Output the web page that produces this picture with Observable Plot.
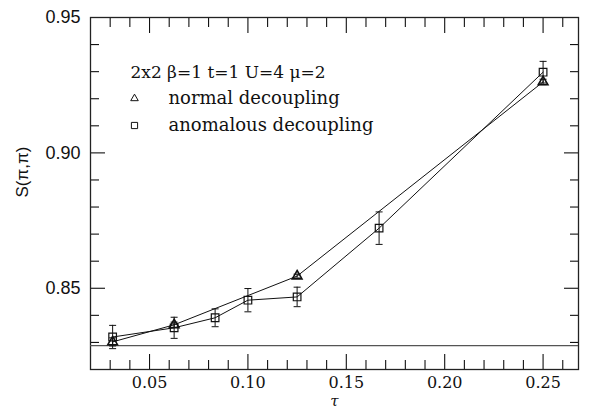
<!DOCTYPE html>
<html><head><meta charset="utf-8">
<script src="https://cdn.jsdelivr.net/npm/d3@7"></script>
<script src="https://cdn.jsdelivr.net/npm/@observablehq/plot@0.6"></script>
<style>body{margin:0;background:#fff}</style>
</head><body><div id="chart"></div>
<script>
// ---- data ----
const tauNormal = [1/32, 1/16, 1/8, 1/4];
const sNormal   = [0.8302, 0.8365, 0.8545, 0.9262];
const errNormal = [0.0015, 0.0010, 0.0007, 0.0010];

const tauAnom = [1/32, 1/16, 1/12, 1/10, 1/8, 1/6, 1/4];
const sAnom   = [0.8320, 0.8354, 0.8391, 0.8456, 0.8468, 0.8722, 0.9298];
const errAnom = [0.0043, 0.0039, 0.0033, 0.0043, 0.0036, 0.0060, 0.0040];

const refLine = [0.8288];

const xMajor = [0.05, 0.10, 0.15, 0.20, 0.25];
const xLabels = ["0.05", "0.10", "0.15", "0.20", "0.25"];
const xMinor = [0.03, 0.04, 0.06, 0.07, 0.08, 0.09, 0.11, 0.12, 0.13, 0.14, 0.16, 0.17, 0.18, 0.19, 0.21, 0.22, 0.23, 0.24, 0.26];
const yMajor = [0.85, 0.90];
const yLabelVals = [0.85, 0.90, 0.95];
const yLabels = ["0.85", "0.90", "0.95"];
const yMinor = [0.83, 0.84, 0.86, 0.87, 0.88, 0.89, 0.91, 0.92, 0.93, 0.94];

const legendTitle = "2x2 β=1 t=1 U=4 μ=2";
const seriesNames = ["normal decoupling", "anomalous decoupling"];
const xTitle = "τ";
const yTitle = "S(π,π)";

// ---- tables ----
const normal = tauNormal.map((t, i) => ({t, s: sNormal[i], e: errNormal[i]}));
const anom = tauAnom.map((t, i) => ({t, s: sAnom[i], e: errAnom[i]}));
const both = normal.concat(anom);

const cap = {draw(ctx, size) { const r = Math.sqrt(size / Math.PI); ctx.moveTo(-r, 0); ctx.lineTo(r, 0); }};

const sans = "Liberation Sans, Arial, sans-serif";
const serif = "DejaVu Serif, serif";

const ticksX = (vals, size, anchor) => Plot.axisX(vals, {anchor, tickSize: -size, tickFormat: () => "", label: null, strokeWidth: 1.1});
const ticksY = (vals, size, anchor) => Plot.axisY(vals, {anchor, tickSize: -size, tickFormat: () => "", label: null, strokeWidth: 1.1});

const legendText = (txt, dy, label) => Plot.text([txt], {frameAnchor: "top-left", dx: label ? 40 : 78, dy, textAnchor: "start", lineAnchor: "middle", fontFamily: serif, fontSize: label ? 17 : 18, fill: "#111", ariaLabel: label ? "legend-title" : "legend-name"});

const chart = Plot.plot({
  width: 592,
  height: 411,
  marginLeft: 90,
  marginRight: 14,
  marginTop: 17,
  marginBottom: 42,
  x: {domain: [0.02, 0.268]},
  y: {domain: [0.82, 0.95]},
  style: {background: "#fff", color: "#111"},
  marks: [
    ticksX(xMajor, 15, "bottom"), ticksX(xMinor, 9, "bottom"),
    ticksX(xMajor, 15, "top"), ticksX(xMinor, 9, "top"),
    ticksY(yMajor, 15, "left"), ticksY(yMinor, 9, "left"),
    ticksY(yMajor, 15, "right"), ticksY(yMinor, 9, "right"),
    Plot.axisX(xMajor, {anchor: "bottom", tickSize: 0, tickPadding: 7, tickFormat: (d, i) => xLabels[i], label: null, fontFamily: serif, fontSize: 16, ariaLabel: "xlabels"}),
    Plot.axisY(yLabelVals, {anchor: "left", tickSize: 0, tickPadding: 10, tickFormat: (d, i) => yLabels[i], label: null, fontFamily: sans, fontSize: 18, ariaLabel: "ylabels"}),
    Plot.frame({stroke: "#222", strokeWidth: 1.3}),
    Plot.ruleY(refLine, {stroke: "#555", strokeWidth: 1.2}),
    Plot.line(normal, {x: "t", y: "s", stroke: "#111", strokeWidth: 1}),
    Plot.line(anom, {x: "t", y: "s", stroke: "#111", strokeWidth: 1}),
    Plot.ruleX(both, {x: "t", y1: d => d.s - d.e, y2: d => d.s + d.e, stroke: "#111", strokeWidth: 1}),
    Plot.dot(both, {x: "t", y: d => d.s - d.e, symbol: cap, r: 3.5, stroke: "#111", strokeWidth: 1}),
    Plot.dot(both, {x: "t", y: d => d.s + d.e, symbol: cap, r: 3.5, stroke: "#111", strokeWidth: 1}),
    Plot.dot(anom, {x: "t", y: "s", symbol: "square", r: 4.3, stroke: "#111", strokeWidth: 1.2, fill: "none"}),
    Plot.dot(normal, {x: "t", y: "s", symbol: "triangle", r: 3.6, stroke: "#111", strokeWidth: 1.6, fill: "none"}),
    // legend inside frame
    legendText(legendTitle, 55, true),
    legendText(seriesNames[0], 81, false),
    legendText(seriesNames[1], 108, false),
    Plot.dot([seriesNames[0]], {frameAnchor: "top-left", dx: 44, dy: 81, symbol: "triangle", r: 2.8, stroke: "#111", strokeWidth: 1, fill: "none"}),
    Plot.dot([seriesNames[1]], {frameAnchor: "top-left", dx: 44, dy: 108, symbol: "square", r: 3.5, stroke: "#111", strokeWidth: 1, fill: "none"}),
    Plot.text([xTitle], {frameAnchor: "bottom", dy: 36, fontFamily: serif, fontStyle: "italic", fontSize: 15, fill: "#111"}),
    Plot.text([yTitle], {frameAnchor: "left", dx: -68, dy: 4, rotate: -90, fontFamily: sans, fontSize: 17, fill: "#111", ariaLabel: "ytitle"})
  ]
});
document.getElementById("chart").appendChild(chart);

// styling post-processing
const svg = d3.select(chart);
svg.selectAll('g[aria-label="legend-title"] text').style("letter-spacing", "2.4px").style("word-spacing", "2px");
svg.selectAll('g[aria-label="legend-name"] text').style("letter-spacing", "3.2px").style("word-spacing", "2px");
svg.selectAll('g[aria-label="ylabels"] text').style("letter-spacing", "1px");
svg.selectAll('g[aria-label="ytitle"] text').style("letter-spacing", "1.5px");
// italic greek letters in legend title
svg.selectAll('g[aria-label="legend-title"] text').each(function() {
  const el = d3.select(this);
  const txt = el.text();
  el.text(null);
  for (const part of txt.split(/([βμ])/)) {
    if (!part) continue;
    const ts = el.append("tspan").text(part);
    if (part === "β" || part === "μ") ts.attr("font-style", "italic");
  }
});
</script>
</body></html>
